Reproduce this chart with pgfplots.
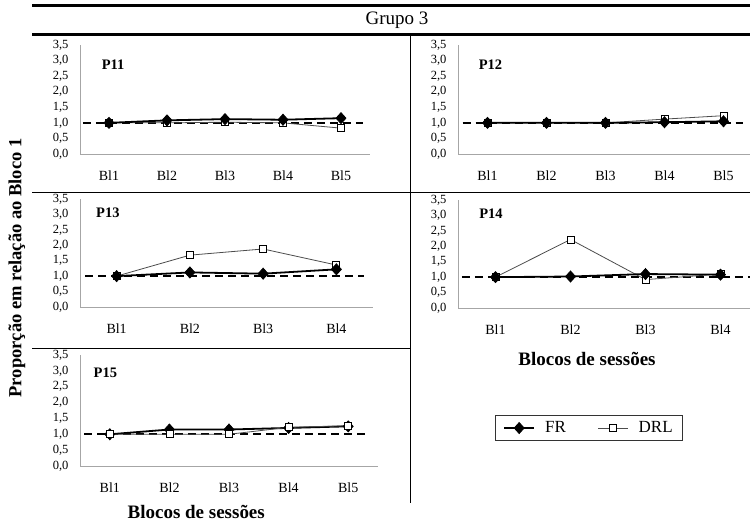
\documentclass[border=0pt]{standalone}
\usepackage{fontspec}
\setmainfont{Liberation Serif}
\usepackage{pgfplots}
\pgfplotsset{compat=1.18}
\pgfplotsset{
  panel/.style={
    scale only axis, anchor=south west,
    ymin=0, ymax=3.5,
    ytick={0,0.5,...,3.5},
    axis lines*=left,
    axis line style={black!35, line width=0.8pt},
    major tick length=0pt,
    /pgf/number format/assume math mode=true,
    /pgf/number format/.cd, use comma, fixed, fixed zerofill, precision=1,
    /pgfplots/.cd,
    yticklabel style={font=\fontsize{12.5}{12.5}\selectfont, xshift=-8pt},
    xticklabel style={font=\fontsize{14}{14}\selectfont, yshift=-13pt},
    clip=false,
  },
  fr/.style={black, line width=1.8pt, mark=diamond*, mark size=5.5pt, mark options={fill=black, line width=0.8pt, xscale=1.2}},
  drl/.style={black!70, line width=0.8pt, mark=square*, mark size=3.5pt, mark options={fill=white, draw=black, line width=0.8pt}},
  ref/.style={black, line width=1.8pt, dash pattern=on 8pt off 5pt, forget plot},
}
\begin{document}
\begin{tikzpicture}[x=1pt,y=1pt]
\useasboundingbox (0pt,0pt) rectangle (750pt,526pt);
% frame lines
\draw[line width=3pt] (32pt,520.5pt) -- (750pt,520.5pt);
\draw[line width=3pt] (32pt,491.5pt) -- (750pt,491.5pt);
\node[font=\fontsize{19}{19}\selectfont] at (397pt,506pt) {Grupo 3};
\draw[line width=0.9pt] (32pt,334pt) -- (750pt,334pt);
\draw[line width=0.9pt] (32pt,178pt) -- (410pt,178pt);
\draw[line width=0.9pt] (410pt,491.5pt) -- (410pt,23pt);
\node[rotate=90, font=\bfseries\fontsize{18.5}{18.5}\selectfont] at (17pt,258pt) {Proporção em relação ao Bloco 1};
% P11
\begin{axis}[panel, at={(80pt,372pt)}, width=290pt, height=109pt, xmin=0.5, xmax=5.5,
  xtick={1,2,3,4,5}, xticklabels={Bl1,Bl2,Bl3,Bl4,Bl5}]
\addplot[ref] coordinates {(0.55,1) (5.38,1)};
\addplot[drl] coordinates {(1,1.0) (2,1.0) (3,1.02) (4,1.0) (5,0.83)};
\addplot[fr] coordinates {(1,1.0) (2,1.08) (3,1.12) (4,1.1) (5,1.15)};
\node[font=\bfseries\fontsize{14.5}{14.5}\selectfont] at (rel axis cs:0.114,0.817) {P11};
\end{axis}
% P12
\begin{axis}[panel, at={(458pt,372pt)}, width=295pt, height=109pt, xmin=0.5, xmax=5.5,
  xtick={1,2,3,4,5}, xticklabels={Bl1,Bl2,Bl3,Bl4,Bl5}]
\addplot[ref] coordinates {(0.58,1) (5.33,1)};
\addplot[drl] coordinates {(1,1.0) (2,1.0) (3,1.0) (4,1.12) (5,1.23)};
\addplot[fr] coordinates {(1,1.0) (2,1.0) (3,1.0) (4,1.02) (5,1.05)};
\node[font=\bfseries\fontsize{14.5}{14.5}\selectfont] at (rel axis cs:0.11,0.817) {P12};
\end{axis}
% P13
\begin{axis}[panel, at={(80pt,219pt)}, width=293pt, height=108pt, xmin=0.5, xmax=4.5,
  xtick={1,2,3,4}, xticklabels={Bl1,Bl2,Bl3,Bl4}]
\addplot[ref] coordinates {(0.57,1) (4.38,1)};
\addplot[drl] coordinates {(1,1.0) (2,1.68) (3,1.88) (4,1.36)};
\addplot[fr] coordinates {(1,1.0) (2,1.12) (3,1.08) (4,1.22)};
\node[font=\bfseries\fontsize{14.5}{14.5}\selectfont] at (rel axis cs:0.095,0.87) {P13};
\end{axis}
% P14
\begin{axis}[panel, at={(458pt,218pt)}, width=300pt, height=108pt, xmin=0.5, xmax=4.5,
  xtick={1,2,3,4}, xticklabels={Bl1,Bl2,Bl3,Bl4}]
\addplot[ref] coordinates {(0.55,1) (4.42,1)};
\addplot[drl] coordinates {(1,1.0) (2,2.22) (3,0.92) (4,1.1)};
\addplot[fr] coordinates {(1,1.0) (2,1.02) (3,1.1) (4,1.08)};
\node[font=\bfseries\fontsize{14.5}{14.5}\selectfont] at (rel axis cs:0.11,0.87) {P14};
\node[font=\bfseries\fontsize{19}{19}\selectfont] at (rel axis cs:0.43,-0.47) {Blocos de sessões};
\end{axis}
% P15
\begin{axis}[panel, at={(80pt,60pt)}, width=298pt, height=111pt, xmin=0.5, xmax=5.5,
  xtick={1,2,3,4,5}, xticklabels={Bl1,Bl2,Bl3,Bl4,Bl5},
  legend columns=2,
  legend style={at={(1.708,0.342)}, anchor=center, draw=black!80, line width=1.5pt,
    font=\fontsize{17}{17}\selectfont, inner xsep=8pt, inner ysep=4pt,
    /tikz/every odd column/.append style={column sep=8pt},
    /tikz/every even column/.append style={column sep=30pt}},
  legend image code/.code={\draw[mark repeat=2, mark phase=2, #1] plot coordinates {(0pt,0pt) (15pt,0pt) (30pt,0pt)};},
  ]
\addplot[ref] coordinates {(0.57,1) (5.35,1)};
\addplot[fr] coordinates {(1,1.0) (2,1.15) (3,1.15) (4,1.2) (5,1.25)};
\addplot[drl] coordinates {(1,1.0) (2,1.0) (3,1.0) (4,1.22) (5,1.27)};
\legend{FR, DRL}
\node[font=\bfseries\fontsize{14.5}{14.5}\selectfont] at (rel axis cs:0.085,0.84) {P15};
\node[font=\bfseries\fontsize{19}{19}\selectfont] at (rel axis cs:0.39,-0.41) {Blocos de sessões};
\end{axis}
\end{tikzpicture}
\end{document}
